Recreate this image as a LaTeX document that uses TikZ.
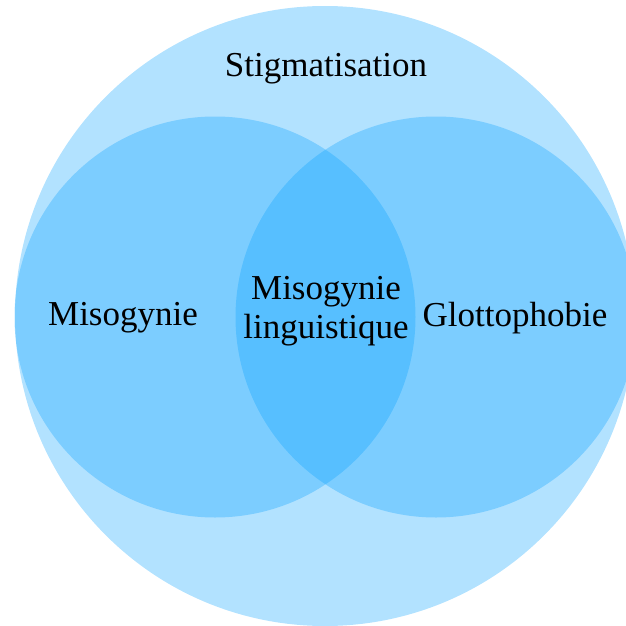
\documentclass[tikz,border=0pt]{standalone}
\usepackage{fontspec}
\setmainfont{Liberation Serif}
\definecolor{vennblue}{RGB}{0,158,255}
\tikzset{
  venn/.style={circle, inner sep=0pt, fill=vennblue, fill opacity=0.3, draw=none},
  lbl/.style={font=\fontsize{35}{39}\selectfont, text=black, align=center, inner sep=0pt}
}
\begin{document}
\begin{tikzpicture}[x=1pt,y=-1pt]
\useasboundingbox (0,0) rectangle (626,626);
\clip (0,0) rectangle (626,626);
\node[venn, minimum size=620pt] (big) at (325,316) {};
\node[venn, minimum size=401pt] (left) at (215,317) {};
\node[venn, minimum size=401pt] (right) at (436,317) {};
\node[lbl] (stig) at (326,69) {Stigmatisation};
\node[lbl] (miso) at (123,318) {Misogynie};
\node[lbl] (glotto) at (515,318) {Glottophobie};
\node[lbl] (ling) at (326,311) {Misogynie\\linguistique};
\end{tikzpicture}
\end{document}
